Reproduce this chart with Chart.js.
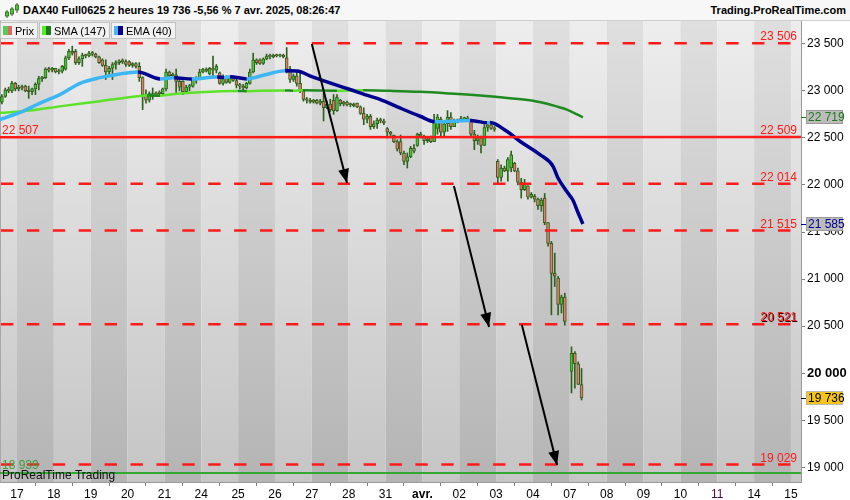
<!DOCTYPE html>
<html>
<head>
<meta charset="utf-8">
<title>DAX40 2 heures</title>
<script src="https://cdn.jsdelivr.net/npm/chart.js@4.4.1/dist/chart.umd.min.js"></script>
<style>
  html, body { margin: 0; padding: 0; background: #fff; }
  body { width: 850px; height: 500px; position: relative; overflow: hidden; font-family: "Liberation Sans", Arial, sans-serif; }
  #title { position: absolute; left: 0; top: 0; width: 850px; height: 20px; background: #f7f7f7; border-bottom: 1px solid #cfcfcf; font-weight: bold; font-size: 11px; color: #000; }
  #title .left { position: absolute; left: 23px; top: 4px; }
  #title .right { position: absolute; right: 4px; top: 4px; }
  #title svg { position: absolute; left: 4px; top: 2px; }
  #wrap { position: absolute; left: 0; top: 21px; width: 850px; height: 479px; }
  #legend { position: absolute; left: 0; top: 22px; display: flex; font-size: 11px; color: #000; }
  .item { box-sizing: border-box; height: 17px; border: 1px solid #c2c2c2; background: #f1f1f1; display: flex; align-items: center; padding: 0 3px 0 2px; margin-right: 1px; }
  .sw { width: 9px; height: 9px; display: flex; margin-right: 3px; }
  .sw span { flex: 1; }
</style>
</head>
<body>
<div id="title">
  <svg width="16" height="16" viewBox="0 0 16 16">
    <rect x="2.5" y="8" width="1" height="8" fill="#2f5f1f"/><rect x="1.5" y="10" width="3" height="4" fill="#44cc33" stroke="#2f5f1f" stroke-width="0.8"/>
    <rect x="7.5" y="5" width="1" height="9" fill="#2f5f1f"/><rect x="6.5" y="7" width="3" height="5" fill="#44cc33" stroke="#2f5f1f" stroke-width="0.8"/>
    <rect x="12.5" y="1" width="1" height="10" fill="#2f5f1f"/><rect x="11.5" y="3" width="3" height="5" fill="#44cc33" stroke="#2f5f1f" stroke-width="0.8"/>
  </svg>
  <span class="left">DAX40 Full0625 2 heures 19 736 -5,56 % 7 avr. 2025, 08:26:47</span>
  <span class="right">Trading.ProRealTime.com</span>
</div>
<div id="wrap"><canvas id="chart" width="850" height="479"></canvas></div>
<div id="legend">
  <div class="item"><div class="sw"><span style="background:#55cc55"></span><span style="background:#e06666"></span></div>Prix</div>
  <div class="item"><div class="sw"><span style="background:#55ee22"></span><span style="background:#1f7a1f"></span></div>SMA (147)</div>
  <div class="item"><div class="sw"><span style="background:#44b8f4"></span><span style="background:#00008f"></span></div>EMA (40)</div>
</div>
<script>
// --- axis ---
const SLOTS_PER_DAY = 11;          // 2h candles per trading day
const X_MIN = -5.07, X_MAX = 234;  // in candle slots from 17 March
const Y_MIN = 18844, Y_MAX = 23742;
const dayLabels = ['17', '18', '19', '20', '21', '24', '25', '26', '27', '28', '31', 'avr.', '02', '03', '04', '07', '08', '09', '10', '11', '14', '15'];
const yTicks = [19000, 19500, 20000, 20500, 21000, 21500, 22000, 22500, 23000, 23500];

// --- candles: sessions (day index from 17 March, first slot, count) ---
const sessionDay = [-1, 0, 1, 2, 3, 4, 5, 6, 7, 8, 9, 10, 11, 12, 13, 14, 15];
const sessionFirstSlot = [6, 0, 0, 0, 0, 0, 0, 0, 0, 0, 0, 0, 0, 0, 0, 0, 0];
const sessionCount = [5, 11, 11, 11, 11, 11, 11, 11, 11, 11, 11, 11, 11, 11, 11, 10, 4];

const opens = [
  22880, 22940, 23010, 23000, 23080,
  23020, 23040, 23050, 23000, 22990, 23020, 23070, 23130, 23140, 23230, 23220,
  23240, 23200, 23210, 23230, 23350, 23420, 23420, 23300, 23340, 23380, 23370,
  23400, 23390, 23360, 23330, 23270, 23200, 23240, 23280, 23300, 23320, 23310,
  23310, 23270, 23290, 23260, 23140, 22960, 22900, 22970, 22940, 22980, 22970,
  23020, 23200, 23160, 23170, 23100, 23100, 22990, 23040, 23050, 23120, 23130,
  23200, 23230, 23180, 23240, 23220, 23190, 23080, 23150, 23090, 23140, 23110,
  23060, 23050, 23030, 23080, 23200, 23330, 23330, 23290, 23340, 23370, 23360,
  23380, 23370, 23380, 23350, 23230, 23120, 23160, 23080, 23000, 22910, 22900,
  22880, 22900, 22870, 22890, 22820, 22860, 22900, 22790, 22900, 22860, 22880,
  22850, 22860, 22870, 22830, 22760, 22700, 22730, 22620, 22650, 22690, 22680,
  22600, 22560, 22530, 22460, 22460, 22340, 22250, 22300, 22390, 22420, 22540,
  22520, 22470, 22510, 22460, 22600, 22700, 22560, 22650, 22720, 22620, 22680,
  22690, 22700, 22710, 22690, 22540, 22470, 22500, 22420, 22610, 22640, 22600,
  22250, 22080, 22180, 22150, 22180, 22230, 22150, 22030, 21950, 21990, 21870,
  21880, 21850, 21780, 21860, 21600, 21380, 21060, 21010, 20730, 20810,
  20020, 20210, 20100, 19880
];
const highs = [
  22960, 23030, 23040, 23100, 23090,
  23060, 23060, 23060, 23050, 23030, 23085, 23155, 23155, 23245, 23250, 23250,
  23240, 23230, 23270, 23370, 23440, 23475, 23440, 23360, 23400, 23390, 23420,
  23420, 23400, 23370, 23340, 23330, 23260, 23300, 23320, 23330, 23340, 23330,
  23320, 23300, 23300, 23300, 23150, 23010, 22990, 23030, 22990, 23000, 23030,
  23230, 23210, 23190, 23230, 23140, 23110, 23060, 23070, 23140, 23150, 23230,
  23240, 23245, 23250, 23370, 23280, 23200, 23170, 23160, 23150, 23160, 23150,
  23080, 23070, 23090, 23230, 23400, 23340, 23340, 23350, 23390, 23390, 23390,
  23390, 23390, 23390, 23460, 23260, 23180, 23200, 23210, 23010, 22930, 22920,
  22910, 22910, 22910, 22980, 22890, 22910, 22960, 22960, 22910, 22890, 22890,
  22870, 22870, 22870, 22840, 22820, 22750, 22750, 22680, 22710, 22710, 22700,
  22610, 22570, 22530, 22480, 22530, 22360, 22340, 22410, 22430, 22550, 22560,
  22530, 22500, 22520, 22750, 22750, 22720, 22680, 22790, 22770, 22700, 22700,
  22730, 22720, 22730, 22700, 22580, 22530, 22520, 22640, 22660, 22660, 22620,
  22270, 22215, 22200, 22290, 22360, 22240, 22180, 22070, 22060, 21990, 21920,
  21900, 21860, 21860, 21910, 21600, 21400, 21276, 21030, 20830, 20850,
  20280, 20230, 20120, 20050
];
const lows = [
  22860, 22930, 22980, 22980, 23000,
  23000, 23010, 22990, 22920, 22960, 22960, 23010, 23100, 23130, 23200, 23200,
  23190, 23180, 23190, 23220, 23330, 23380, 23280, 23280, 23260, 23350, 23360,
  23370, 23350, 23290, 23260, 23120, 23150, 23120, 23230, 23280, 23290, 23260,
  23260, 23250, 23240, 23100, 22800, 22870, 22880, 22910, 22940, 22950, 22960,
  23000, 23150, 23140, 22980, 23000, 22960, 22980, 23000, 23040, 23080, 23120,
  23190, 23200, 23170, 23160, 23190, 23070, 23060, 23080, 23080, 23100, 23030,
  23020, 23010, 23020, 23070, 23190, 23280, 23280, 23280, 23330, 23340, 23350,
  23360, 23360, 23350, 23190, 23090, 23100, 23050, 22980, 22890, 22870, 22870,
  22870, 22860, 22850, 22680, 22810, 22780, 22750, 22780, 22840, 22840, 22840,
  22830, 22830, 22820, 22750, 22640, 22660, 22590, 22600, 22600, 22660, 22640,
  22500, 22520, 22450, 22360, 22320, 22215, 22180, 22290, 22340, 22410, 22500,
  22430, 22450, 22450, 22460, 22540, 22520, 22520, 22570, 22590, 22620, 22660,
  22680, 22690, 22680, 22520, 22375, 22430, 22340, 22420, 22570, 22590, 22570,
  22020, 22040, 22140, 22040, 22140, 22140, 22000, 21860, 21940, 21850, 21860,
  21820, 21740, 21720, 21577, 21350, 20620, 20921, 20620, 20640, 20510,
  19790, 19840, 19880, 19715
];
const closes = [
  22940, 23010, 23000, 23080, 23020,
  23040, 23030, 23000, 22990, 23020, 23070, 23130, 23140, 23230, 23220, 23240,
  23200, 23210, 23260, 23350, 23420, 23400, 23300, 23340, 23380, 23370, 23400,
  23390, 23360, 23300, 23270, 23200, 23240, 23280, 23300, 23320, 23310, 23280,
  23270, 23290, 23260, 23140, 22960, 22900, 22970, 22940, 22980, 22970, 23020,
  23200, 23160, 23170, 23100, 23040, 22990, 23040, 23050, 23120, 23130, 23200,
  23230, 23210, 23240, 23220, 23260, 23080, 23150, 23090, 23140, 23110, 23060,
  23050, 23030, 23080, 23200, 23330, 23300, 23290, 23340, 23370, 23360, 23380,
  23370, 23380, 23360, 23230, 23120, 23160, 23080, 23000, 22910, 22900, 22880,
  22900, 22870, 22890, 22820, 22860, 22800, 22790, 22930, 22860, 22880, 22850,
  22860, 22840, 22830, 22760, 22700, 22730, 22620, 22650, 22690, 22680, 22660,
  22560, 22540, 22460, 22380, 22340, 22250, 22300, 22390, 22360, 22540, 22520,
  22470, 22490, 22460, 22680, 22720, 22560, 22650, 22720, 22620, 22680, 22690,
  22700, 22710, 22690, 22540, 22470, 22500, 22420, 22610, 22640, 22600, 22590,
  22080, 22180, 22150, 22270, 22320, 22150, 22030, 21950, 22020, 21870, 21900,
  21850, 21780, 21840, 21600, 21380, 21060, 21030, 20730, 20810, 20550,
  20210, 20100, 19880, 19736
];

// --- moving averages (slot position, value) ---
const emaX = [-5.07, 0.9, 6.9, 12.8, 18.8, 24.8, 30.7, 36.1, 42.7, 46.9, 52.2, 59.7, 61.8, 63.6, 68.6, 74.0, 80.0, 83.6, 87.4, 93.4, 99.4, 105.3, 108.3, 114.3, 120.3, 124.7, 135.2, 137.0, 140.3, 141.2, 146.2, 150.1, 156.1, 160.0, 161.4, 164.1, 165.9, 167.4, 168.9];
const emaValues = [22695, 22770, 22870, 22960, 23080, 23140, 23180, 23200, 23127, 23140, 23125, 23148, 23142, 23150, 23127, 23170, 23213, 23212, 23160, 23085, 23014, 22943, 22910, 22818, 22730, 22672, 22684, 22678, 22660, 22664, 22570, 22464, 22322, 22198, 22080, 21930, 21840, 21710, 21585];
const smaX = [-5.07, 3.9, 12.8, 24.8, 36.7, 38.8, 42.7, 45.7, 54.6, 65.9, 68.6, 72.5, 80.0, 82.4, 85.3, 95.5, 103.3, 111.3, 120.3, 129.2, 138.2, 147.1, 154.0, 159.1, 164.1, 166.5, 168.9];
const smaValues = [22766, 22790, 22835, 22890, 22945, 22952, 22948, 22962, 22985, 22998, 22996, 23002, 23004, 23001, 23005, 23002, 23006, 23000, 22990, 22972, 22950, 22922, 22895, 22854, 22800, 22760, 22719];

// --- drawn levels and arrows ---
const dashedLevels = [23506, 22014, 21515, 20521, 19029];
const trendLevelLeft = 22507, trendLevelRight = 22509;
const supportLevel = 18939;
const arrowStartX = [88.0, 130.4, 150.7];
const arrowStartY = [23498, 21989, 20512];
const arrowEndX = [98.5, 140.9, 161.2];
const arrowEndY = [22021, 20491, 19024];
const tagValues = [22719, 21585, 19736];

const FONT = '"Liberation Sans", Arial, sans-serif';
const RED = '#ff1a1a';
const WICK = '#2f5f1f';

function fmt(v) {
  return String(Math.round(v)).replace(/\B(?=(\d{3})+(?!\d))/g, ' ');
}

const candleX = [];
sessionDay.forEach((d, s) => {
  for (let j = 0; j < sessionCount[s]; j++) {
    candleX.push(d * SLOTS_PER_DAY + sessionFirstSlot[s] + j + 0.5);
  }
});
const candleUp = closes.map((c, i) => c >= opens[i]);

function hLine(yLeft, yRight) {
  return [{ x: X_MIN, y: yLeft }, { x: X_MAX, y: yRight }];
}

const datasets = [];

// arrows (shafts)
arrowStartX.forEach((x0, i) => {
  datasets.push({
    type: 'line', data: [{ x: x0, y: arrowStartY[i] }, { x: arrowEndX[i], y: arrowEndY[i] }],
    borderColor: '#000', borderWidth: 2, pointRadius: 0
  });
});

dashedLevels.forEach(v => {
  datasets.push({
    type: 'line', data: hLine(v, v), borderColor: RED, borderWidth: 2.5,
    borderDash: [12.4, 13.5], borderDashOffset: 24.9, pointRadius: 0
  });
});
datasets.push({ type: 'line', data: hLine(trendLevelLeft, trendLevelRight), borderColor: RED, borderWidth: 2.5, pointRadius: 0 });
datasets.push({ type: 'line', data: hLine(supportLevel, supportLevel), borderColor: '#33a833', borderWidth: 2, pointRadius: 0 });

datasets.push({
  type: 'line', data: emaX.map((x, i) => ({ x, y: emaValues[i] })),
  borderWidth: 3.5, pointRadius: 0, cubicInterpolationMode: 'monotone',
  borderColor: '#00008f',
  segment: { borderColor: c => c.p1.parsed.y >= c.p0.parsed.y ? '#3fb6f4' : '#00008f' }
});
datasets.push({
  type: 'line', data: smaX.map((x, i) => ({ x, y: smaValues[i] })),
  borderWidth: 2.5, pointRadius: 0, cubicInterpolationMode: 'monotone',
  borderColor: '#1f8a1f',
  segment: { borderColor: c => c.p1.parsed.y >= c.p0.parsed.y ? '#5de22a' : '#1f8a1f' }
});

// candle bodies then wicks
datasets.push({
  type: 'bar', grouped: false, barThickness: 3, minBarLength: 1.5,
  data: candleX.map((x, i) => ({ x, y: [opens[i], closes[i]] })),
  backgroundColor: candleUp.map(u => u ? '#44cc33' : '#ea7a6a'),
  borderColor: WICK, borderWidth: 1, borderSkipped: false
});
datasets.push({
  type: 'bar', grouped: false, barThickness: 1,
  data: candleX.map((x, i) => ({ x, y: [lows[i], highs[i]] })),
  backgroundColor: WICK, borderWidth: 0
});

const bandsPlugin = {
  id: 'dayBands',
  beforeDraw(chart) {
    const { ctx, chartArea: a, scales: { x } } = chart;
    const light = ctx.createLinearGradient(0, a.top, 0, a.bottom);
    light.addColorStop(0, '#ededed');
    light.addColorStop(1, '#c5c5c5');
    const dark = ctx.createLinearGradient(0, a.top, 0, a.bottom);
    dark.addColorStop(0, '#dfdfdf');
    dark.addColorStop(1, '#b4b4b4');
    ctx.save();
    for (let k = -1; k < dayLabels.length; k++) {
      const x0 = Math.max(x.getPixelForValue(k * SLOTS_PER_DAY), a.left);
      const x1 = Math.min(x.getPixelForValue((k + 1) * SLOTS_PER_DAY), a.right);
      if (x1 <= x0) continue;
      ctx.fillStyle = k % 2 === 0 ? dark : light;
      ctx.fillRect(x0, a.top, x1 - x0, a.bottom - a.top);
    }
    // thin left edge
    ctx.fillStyle = '#a8a8a8';
    ctx.fillRect(a.left, a.top, 1, a.bottom - a.top);
    ctx.restore();
  }
};

const overlayPlugin = {
  id: 'overlay',
  afterDatasetsDraw(chart) {
    const { ctx, chartArea: a, scales: { x, y } } = chart;
    ctx.save();
    // arrow heads
    ctx.fillStyle = '#000';
    arrowEndX.forEach((ex, i) => {
      const x0 = x.getPixelForValue(arrowStartX[i]), y0 = y.getPixelForValue(arrowStartY[i]);
      const x1 = x.getPixelForValue(ex), y1 = y.getPixelForValue(arrowEndY[i]);
      const ang = Math.atan2(y1 - y0, x1 - x0);
      ctx.save();
      ctx.translate(x1, y1);
      ctx.rotate(ang);
      ctx.beginPath();
      ctx.moveTo(0, 0);
      ctx.lineTo(-14, -5.5);
      ctx.lineTo(-14, 5.5);
      ctx.closePath();
      ctx.fill();
      ctx.restore();
    });

    // level labels
    ctx.font = '12px ' + FONT;
    ctx.textBaseline = 'alphabetic';
    ctx.textAlign = 'right';
    dashedLevels.concat([trendLevelRight]).forEach(v => {
      const py = y.getPixelForValue(v) - 3;
      if (v === 20521) {
        ctx.fillStyle = '#300';
        ctx.fillText(fmt(v), a.right - 3, py + 1);
      }
      ctx.fillStyle = RED;
      ctx.fillText(fmt(v), a.right - 4, py);
    });
    ctx.textAlign = 'left';
    ctx.fillStyle = RED;
    ctx.fillText(fmt(trendLevelLeft), a.left + 2, y.getPixelForValue(trendLevelLeft) - 3);
    ctx.fillStyle = '#3c9c3c';
    ctx.fillText(fmt(supportLevel), a.left + 2, y.getPixelForValue(supportLevel) - 4);
    ctx.fillStyle = '#111';
    ctx.fillText('ProRealTime Trading', a.left + 2, a.bottom - 3);
    ctx.restore();
  },
  afterDraw(chart) {
    const { ctx, chartArea: a, scales: { y } } = chart;
    const styles = [
      { fill: '#bcbcbc', stroke: '#9a9a9a', text: '#1f7a1f' },
      { fill: '#bcbcbc', stroke: '#9a9a9a', text: '#00008f' },
      { fill: '#f5c518', stroke: '#b8b8b8', text: '#000' }
    ];
    ctx.save();
    ctx.font = '12px ' + FONT;
    ctx.textBaseline = 'middle';
    ctx.textAlign = 'left';
    tagValues.forEach((v, i) => {
      const py = Math.round(y.getPixelForValue(v));
      const st = styles[i];
      ctx.strokeStyle = st.text;
      ctx.lineWidth = 1;
      ctx.beginPath();
      ctx.moveTo(a.right, py + 0.5);
      ctx.lineTo(a.right + 5, py + 0.5);
      ctx.stroke();
      ctx.fillStyle = st.fill;
      ctx.fillRect(a.right + 5, py - 7, 37, 14);
      ctx.strokeStyle = st.stroke;
      ctx.strokeRect(a.right + 5.5, py - 6.5, 36, 13);
      ctx.fillStyle = st.text;
      ctx.fillText(fmt(v), a.right + 7, py + 1);
    });
    ctx.restore();
  }
};

new Chart(document.getElementById('chart'), {
  type: 'bar',
  data: { datasets },
  options: {
    responsive: false,
    animation: false,
    events: [],
    layout: { padding: 0 },
    plugins: { legend: { display: false }, tooltip: { enabled: false } },
    scales: {
      x: {
        type: 'linear', min: X_MIN, max: X_MAX, offset: false,
        grid: { drawOnChartArea: false, tickLength: 4, color: '#808080' },
        border: { color: '#9a9a9a' },
        afterBuildTicks: s => { s.ticks = dayLabels.map((_, k) => ({ value: k * SLOTS_PER_DAY })); },
        ticks: {
          autoSkip: false, maxRotation: 0, padding: 1,
          font: c => ({ family: FONT, size: 12, weight: dayLabels[c.index] === 'avr.' ? 'bold' : 'normal' }),
          color: c => dayLabels[c.index] === '11' ? '#4a0a4a' : '#000',
          callback: (v, i) => dayLabels[i]
        },
        afterFit: s => { s.height = 18; s.paddingLeft = 0; s.paddingRight = 0; }
      },
      y: {
        type: 'linear', position: 'right', min: Y_MIN, max: Y_MAX,
        grid: { drawOnChartArea: false, tickLength: 4, color: '#808080' },
        border: { color: '#9a9a9a' },
        afterBuildTicks: s => { s.ticks = yTicks.map(v => ({ value: v })); },
        ticks: {
          padding: 2, color: '#000',
          font: c => (c.tick && c.tick.value === 20000)
            ? { family: FONT, size: 13, weight: 'bold' }
            : { family: FONT, size: 12 },
          callback: v => fmt(v)
        },
        afterFit: s => { s.width = 49; s.paddingTop = 0; s.paddingBottom = 0; }
      }
    }
  },
  plugins: [bandsPlugin, overlayPlugin]
});
</script>
</body>
</html>
